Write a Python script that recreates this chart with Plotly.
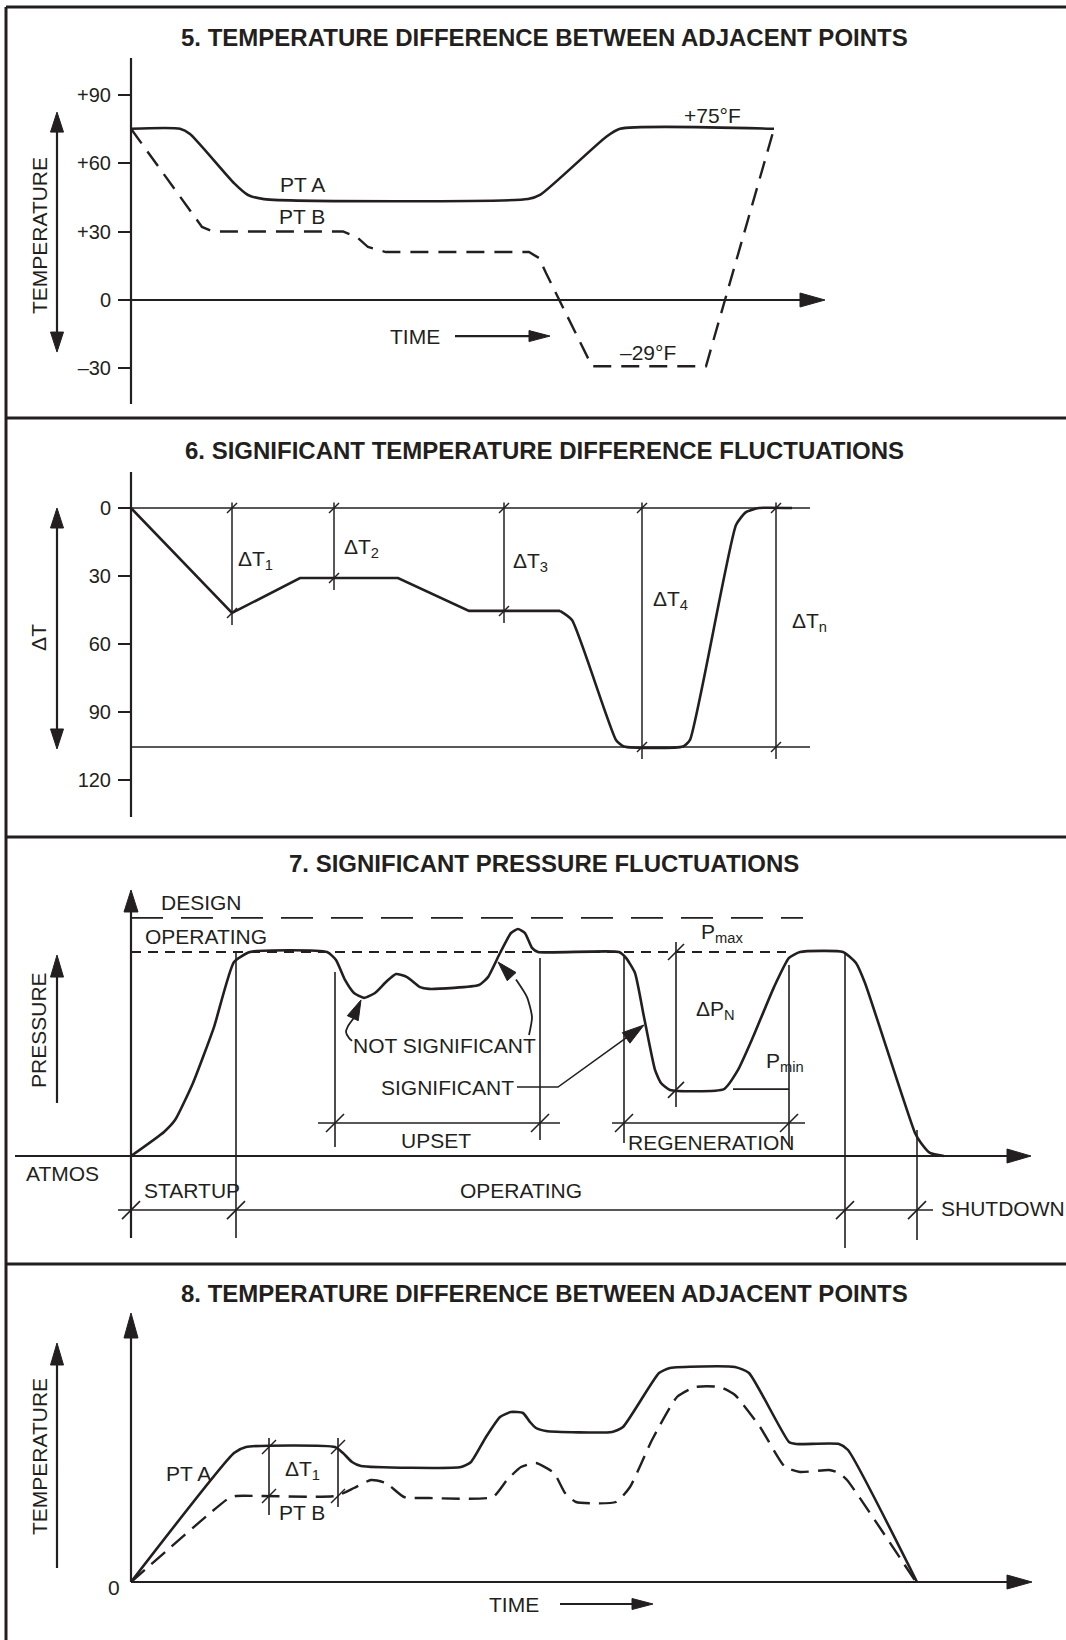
import plotly.graph_objects as go

INK = "#231f20"
FONT = "Liberation Sans, Arial, Helvetica, sans-serif"
W, H = 1066, 1640

# ======================= DATA =======================
# 5. Temperature difference between adjacent points (deg F vs time)
p5_ticks = [90, 60, 30, 0, -30]
p5_tick_text = ["+90", "+60", "+30", "0", "\u201330"]
p5_time_a = [0, 4.9, 5.9, 10.3, 11.7, 13.3, 39.7, 40.9, 47.5, 48.9, 64.3]
p5_temp_a = [75, 75, 72.7, 51.2, 46.0, 44.2, 44.2, 46.0, 71.4, 75, 75]
p5_time_b = [0, 7.1, 8.2, 21.2, 22.6, 23.7, 25.5, 39.8, 40.8, 41.5, 46.1, 57.5, 64.3]
p5_temp_b = [75, 32, 30, 30, 27.5, 23.2, 21, 21, 18.4, 11.8, -29, -29, 75]

# 6. Significant temperature difference fluctuations
p6_ticks = [0, 30, 60, 90, 120]
p6_time = [0, 10.1, 16.9, 26.7, 33.8, 42.9, 44.1, 48.5, 49.3, 55.2, 55.9, 60.5, 61.5, 62.8, 66.1]
p6_dt = [0, 46.3, 30.9, 30.9, 45.4, 45.4, 49.4, 102.3, 105.2, 105.2, 102.3, 7.5, 1.8, 0, 0]
p6_dt_max = 105.4
p6_dim_time = [10.1, 20.3, 37.3, 51.1, 64.5]
p6_dim_dt = [46.3, 30.9, 45.4, 105.4, 105.4]
p6_dim_labels = ["\u0394T<sub>1</sub>", "\u0394T<sub>2</sub>", "\u0394T<sub>3</sub>",
                 "\u0394T<sub>4</sub>", "\u0394T<sub>n</sub>"]

# 7. Significant pressure fluctuations (arbitrary pressure units, ATMOS = 0, OPERATING = 100)
p7_time = [0, 3.3, 4.4, 6.2, 8.3, 10.3, 11.9, 19.6, 20.5, 21.4, 22.3, 23.3, 24.4, 25.5, 26.5, 27.6,
           28.9, 29.8, 34.8, 35.7, 36.9, 38.0, 38.7, 39.4, 40.1, 40.7, 48.8, 49.5, 50.4, 51.3, 52.4, 53.0,
           53.9, 59.3, 60.7, 62.2, 64.3, 65.8, 66.9, 71.2, 72.5, 73.4, 78.4, 79.0, 79.9, 81.3]
p7_pressure = [0, 11.8, 17.6, 35.8, 63.2, 95.1, 100, 100, 96.1, 86.3, 79.9, 77.5, 79.9, 85.3, 89.2, 87.7,
               82.8, 81.9, 83.8, 87.7, 99.5, 109.3, 111.3, 109.3, 102.0, 100, 100, 97.1, 89.7, 68.1, 42.2, 35.8,
               32.4, 32.8, 42.2, 58.3, 82.8, 97.1, 100, 100, 94.6, 84.8, 11.3, 6.4, 1.5, 0]
p7_atmos, p7_operating, p7_design = 0, 100, 116.7
p7_p_min = 32.8
p7_startup_end, p7_upset_start, p7_upset_end = 10.5, 20.4, 40.9
p7_regen_start, p7_regen_end, p7_dp_time = 49.3, 65.8, 54.5
p7_operating_end, p7_shutdown_end = 71.4, 78.6

# 8. Temperature difference between adjacent points (arbitrary temperature units)
p8_time_a = [0, 10.3, 11.5, 20.4, 21.2, 22.1, 23.0, 33.0, 34.0, 35.5, 36.9, 38.0, 39.2, 39.9, 40.5, 41.5,
             48.1, 49.2, 52.8, 53.9, 60.4, 61.8, 65.8, 66.5, 70.8, 71.7, 78.6]
p8_temp_a = [0, 64.5, 67.5, 67.5, 64.5, 60, 58, 57.5, 60, 72.5, 82.5, 85, 84.5, 80, 77, 75.5,
             75, 77.5, 104.5, 107, 107.5, 104.5, 70, 69, 69, 66, 0]
p8_time_b = [0, 9.8, 10.5, 20.5, 22.3, 24.0, 25.5, 27.3, 29.8, 36.2, 37.6, 39.0, 40.5, 42.3, 43.4, 44.5,
             48.5, 49.9, 52.1, 54.6, 56.4, 58.9, 60.4, 62.9, 65.4, 66.9, 69.8, 70.8, 71.6, 78.5]
p8_temp_b = [0, 42, 43, 43, 47, 51, 49.5, 42.5, 42, 42.5, 51, 57.5, 59.5, 54.5, 44.5, 40,
             40, 47.5, 71, 92.5, 97.5, 97.5, 93.5, 77.5, 57.5, 55, 56, 54.5, 51, 0]
p8_dt1_time = [13.8, 20.7]

# ======================= GEOMETRY =======================
X_ZERO, X_PPU = 131, 10.0
# panel: (top px, bottom px, px of value 0, px per value unit (up positive))
PANEL = {5: (7, 418, 300, 2.283), 6: (418, 837, 508, -2.267),
         7: (837, 1264, 1156, 2.04), 8: (1264, 1640, 1582, 2.0)}
AX = {5: ("x", "y"), 6: ("x2", "y2"), 7: ("x3", "y3"), 8: ("x4", "y4")}
LABEL_SIZE = 21

fig = go.Figure()


def ppu(p):
    return PANEL[p][3]


def trace(p, xs, ys, width=2.2, dash="solid", shape="linear", smoothing=0.6):
    xa, ya = AX[p]
    line = dict(color=INK, width=width, dash=dash, shape=shape)
    if shape == "spline":
        line["smoothing"] = smoothing
    fig.add_trace(go.Scatter(x=xs, y=ys, xaxis=xa, yaxis=ya, mode="lines", line=line,
                             hoverinfo="skip", showlegend=False))


def hline(p, v, t0, t1, **kw):
    trace(p, [t0, t1], [v, v], **kw)


def vline(p, t, v0, v1, **kw):
    trace(p, [t, t], [v0, v1], **kw)


def shift(p, t, v, dx, dy):
    return t + dx / X_PPU, v + dy / ppu(p)


def head(p, t, v, ux, uy, length=24, half=7):
    n = (ux * ux + uy * uy) ** 0.5
    ux, uy = ux / n, uy / n
    pts = [(0, 0),
           (-ux * length - uy * half, -uy * length + ux * half),
           (-ux * length + uy * half, -uy * length - ux * half)]
    xy = [shift(p, t, v, a, b) for a, b in pts]
    path = "M" + "L".join(f"{a:.4f},{b:.4f}" for a, b in xy) + "Z"
    xa, ya = AX[p]
    fig.add_shape(type="path", path=path, xref=xa, yref=ya, fillcolor=INK,
                  line=dict(color=INK, width=1), layer="above")


def slash(p, t, v, s=5, width=1.4):
    x0, y0 = shift(p, t, v, -s, -s)
    x1, y1 = shift(p, t, v, s, s)
    xa, ya = AX[p]
    fig.add_shape(type="line", x0=x0, y0=y0, x1=x1, y1=y1, xref=xa, yref=ya,
                  line=dict(color=INK, width=width), layer="above")


def label(p, t, v, s, size=LABEL_SIZE, xanchor="center", angle=0):
    xa, ya = AX[p]
    fig.add_annotation(x=t, y=v, xref=xa, yref=ya, text=s, showarrow=False, xanchor=xanchor,
                       yanchor="middle", textangle=angle, font=dict(family=FONT, size=size, color=INK))


def title(py, s):
    fig.add_annotation(x=544 / W, y=1 - py / H, xref="paper", yref="paper", text=f"<b>{s}</b>",
                       showarrow=False, xanchor="center", yanchor="middle",
                       font=dict(family=FONT, size=24, color=INK))


# ---------------- Panel 5 ----------------
title(37, "5. TEMPERATURE DIFFERENCE BETWEEN ADJACENT POINTS")
vline(5, 0, -45.6, 106)
hline(5, 0, -1.3, 68)
head(5, 69.4, 0, 1, 0, 25, 7)
trace(5, p5_time_a, p5_temp_a, width=2.6, shape="spline", smoothing=0.6)
trace(5, p5_time_b, p5_temp_b, width=2.4, dash="18px,10px")
vline(5, -7.4, -20, 80)
head(5, -7.4, 82.3, 0, 1, 20, 6.5)
head(5, -7.4, -22.8, 0, -1, 20, 6.5)
hline(5, -15.8, 32.4, 40.5)
head(5, 41.9, -15.8, 1, 0, 21, 5.5)
label(5, -9.2, 28.0, "TEMPERATURE", angle=-90)
label(5, 28.4, -15.8, "TIME")
label(5, 17.1, 50.8, "PT A")
label(5, 17.1, 36.4, "PT B")
label(5, 58.1, 81.0, "+75\u00b0F")
label(5, 51.7, -22.8, "\u201329\u00b0F")

# ---------------- Panel 6 ----------------
title(450, "6. SIGNIFICANT TEMPERATURE DIFFERENCE FLUCTUATIONS")
vline(6, 0, -15.9, 136.3)
hline(6, 0, -1.3, 67.9, width=1.5)
hline(6, p6_dt_max, 0, 67.9, width=1.5)
trace(6, p6_time[:6], p6_dt[:6], width=2.6)
trace(6, p6_time[5:], p6_dt[5:], width=2.6, shape="spline", smoothing=0.5)
for t, v in zip(p6_dim_time, p6_dim_dt):
    vline(6, t, -2.4, v + 5.3, width=1.5)
    slash(6, t, 0, 5)
    slash(6, t, v, 5)
vline(6, -7.4, 3, 103)
head(6, -7.4, 0, 0, 1, 20, 6.5)
head(6, -7.4, 106.3, 0, -1, 20, 6.5)
label(6, -9.2, 57.3, "\u0394T", angle=-90)
for t, v, s in zip([12.4, 23.0, 39.9, 53.9, 67.8], [22.9, 17.6, 23.8, 40.6, 50.3], p6_dim_labels):
    label(6, t, v, s)

# ---------------- Panel 7 ----------------
title(863, "7. SIGNIFICANT PRESSURE FLUCTUATIONS")
vline(7, 0, -40.2, 120)
head(7, 0, 130.4, 0, 1, 22, 7)
hline(7, p7_atmos, -11.6, 88)
head(7, 90.0, p7_atmos, 1, 0, 24, 7)
hline(7, p7_design, 0, 67.2, width=1.8, dash="32px,18px")
hline(7, p7_operating, 0, 65.5, width=1.8, dash="10px,7px")
trace(7, p7_time, p7_pressure, width=2.6, shape="spline", smoothing=0.5)
# phase boundary verticals
vline(7, p7_startup_end, 99.5, -40.2, width=1.6)
vline(7, p7_upset_start, 90.2, 4.4, width=1.6)
vline(7, p7_upset_end, 97.1, 7.8, width=1.6)
vline(7, p7_regen_start, 97.5, 6.4, width=1.6)
vline(7, p7_regen_end, 93.6, 4.4, width=1.6)
vline(7, p7_dp_time, 104.9, 24.0, width=1.6)
vline(7, p7_operating_end, 100, -45.1, width=1.6)
vline(7, p7_shutdown_end, 12.7, -41.2, width=1.6)
# dimension lines
hline(7, 16.2, 18.7, 42.9, width=1.6)
hline(7, 16.2, 48.1, 67.4, width=1.6)
hline(7, -26.5, -1.3, 80.2, width=1.6)
hline(7, p7_p_min, 60.2, p7_regen_end, width=1.6)
for t in [p7_upset_start, p7_upset_end, p7_regen_start, p7_regen_end]:
    slash(7, t, 16.2, 9, 1.6)
for t in [0, p7_startup_end, p7_operating_end, p7_shutdown_end]:
    slash(7, t, -26.5, 9, 1.6)
slash(7, p7_dp_time, p7_operating, 8, 1.6)
slash(7, p7_dp_time, 32.4, 8, 1.6)
# pressure arrow
vline(7, -7.4, 26.0, 90)
head(7, -7.4, 98.5, 0, 1, 22, 6.5)
# "not significant" arrows
trace(7, [22.1, 21.8, 21.5, 21.7, 22.3], [56.4, 57.8, 60.8, 63.7, 67.8], width=1.8, shape="spline")
head(7, 23.0, 76.5, 0.41, 0.91, 20, 6)
trace(7, [39.8, 40.1, 39.6, 38.5], [59.3, 68.1, 77.9, 86.5], width=1.8, shape="spline")
head(7, 36.7, 95.1, -0.68, 0.73, 20, 6)
# "significant" leader
trace(7, [38.6, 42.7, 50.0], [33.8, 33.8, 59.6], width=1.6)
head(7, 51.3, 64.2, 86, 62, 22, 6.5)
label(7, 2.8, 124.5, "DESIGN", xanchor="left")
label(7, 1.2, 107.8, "OPERATING", xanchor="left")
label(7, -10.7, -8.8, "ATMOS", xanchor="left")
label(7, -9.2, 61.8, "PRESSURE", angle=-90)
label(7, 31.3, 54.4, "NOT SIGNIFICANT")
label(7, 38.5, 33.8, "SIGNIFICANT", xanchor="right")
label(7, 30.5, 7.4, "UPSET")
label(7, 49.5, 6.4, "REGENERATION", xanchor="left")
label(7, 1.1, -16.7, "STARTUP", xanchor="left")
label(7, 39.0, -16.7, "OPERATING")
label(7, 80.8, -25.5, "SHUTDOWN", xanchor="left")
label(7, 59.1, 109.3, "P<sub>max</sub>")
label(7, 58.4, 71.6, "\u0394P<sub>N</sub>")
label(7, 65.4, 46.1, "P<sub>min</sub>")

# ---------------- Panel 8 ----------------
title(1293, "8. TEMPERATURE DIFFERENCE BETWEEN ADJACENT POINTS")
vline(8, 0, 0, 124)
head(8, 0, 134.5, 0, 1, 25, 7)
hline(8, 0, 0, 89)
head(8, 90.1, 0, 1, 0, 25, 7)
trace(8, p8_time_a, p8_temp_a, width=2.6, shape="spline", smoothing=0.5)
trace(8, p8_time_b, p8_temp_b, width=2.4, dash="18px,9px", shape="spline", smoothing=0.5)
vline(8, p8_dt1_time[0], 72, 33.5, width=1.6)
vline(8, p8_dt1_time[1], 72, 37.5, width=1.6)
for t in p8_dt1_time:
    slash(8, t, 67.5, 7, 1.5)
    slash(8, t, 43, 7, 1.5)
vline(8, -7.4, 7, 110)
head(8, -7.4, 119.5, 0, 1, 22, 6.5)
hline(8, -11, 42.9, 51)
head(8, 52.2, -11, 1, 0, 21, 5.5)
label(8, -9.2, 62.5, "TEMPERATURE", angle=-90)
label(8, -1.7, -2.5, "0")
label(8, 38.3, -11, "TIME")
label(8, 17.1, 56, "\u0394T<sub>1</sub>")
label(8, 5.7, 54.5, "PT A")
label(8, 17.1, 35, "PT B")

# ---------------- frame ----------------
for py in [7, 418, 837, 1264]:
    fig.add_shape(type="line", xref="paper", yref="paper", x0=6 / W, x1=1, y0=1 - py / H, y1=1 - py / H,
                  line=dict(color=INK, width=3))
fig.add_shape(type="line", xref="paper", yref="paper", x0=6 / W, x1=6 / W, y0=0, y1=1 - 7 / H,
              line=dict(color=INK, width=3))

# ---------------- axes ----------------
layout = dict(width=W, height=H, margin=dict(l=0, r=0, t=0, b=0), paper_bgcolor="white",
              plot_bgcolor="white", showlegend=False)
for i, p in enumerate([5, 6, 7, 8], start=1):
    top, bottom, zero, k = PANEL[p]
    sfx = "" if i == 1 else str(i)
    layout["xaxis" + sfx] = dict(domain=[0, 1], range=[-X_ZERO / X_PPU, (W - X_ZERO) / X_PPU],
                                 visible=False, anchor="y" + sfx, fixedrange=True)
    y = dict(domain=[1 - bottom / H, 1 - top / H], range=[(zero - bottom) / k, (zero - top) / k],
             anchor="free", position=X_ZERO / W, showgrid=False, zeroline=False, showline=False,
             fixedrange=True)
    if p in (5, 6):
        y.update(tickmode="array", tickvals=p5_ticks if p == 5 else p6_ticks,
                 ticktext=p5_tick_text if p == 5 else [str(v) for v in p6_ticks],
                 ticks="outside", ticklen=13, tickwidth=2, tickcolor=INK,
                 tickfont=dict(family=FONT, size=20, color=INK), ticklabelstandoff=3)
    else:
        y.update(showticklabels=False, ticks="")
    layout["yaxis" + sfx] = y
fig.update_layout(**layout)

fig.write_html("out.html")
